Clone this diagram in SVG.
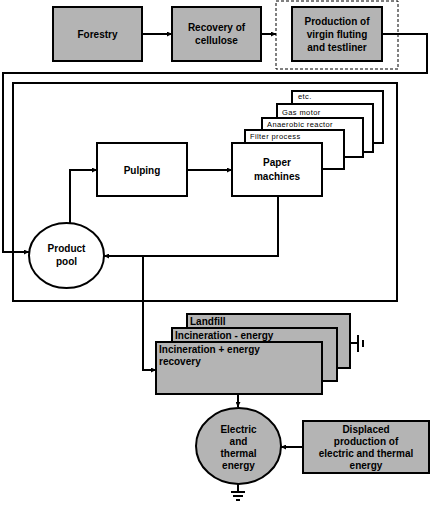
<svg xmlns="http://www.w3.org/2000/svg" width="433" height="509" viewBox="0 0 433 509">
<defs>
<marker id="ah" viewBox="0 0 6 6" refX="6" refY="3" markerWidth="5" markerHeight="5" orient="auto" markerUnits="userSpaceOnUse">
<path d="M0,0 L6,3 L0,6 Z" fill="#000"/>
</marker>
</defs>
<style>
.g{fill:#b4b4b4;stroke:#000;stroke-width:2}
.w{fill:#fff;stroke:#000;stroke-width:2}
.c{fill:none;stroke:#000;stroke-width:2}
.t{font-family:"Liberation Sans",Arial,sans-serif;font-weight:bold;font-size:10px;fill:#000;text-anchor:middle}
.s{font-family:"Liberation Sans",Arial,sans-serif;font-size:7.5px;letter-spacing:0.4px;fill:#000}
.b{font-family:"Liberation Sans",Arial,sans-serif;font-weight:bold;font-size:10px;fill:#000}
</style>
<rect width="433" height="509" fill="#fff"/>
<g id="main-box"><rect x="13" y="83" width="384" height="218" class="w"/></g>
<g id="connectors">
<line x1="142" y1="34" x2="172" y2="34" class="c" marker-end="url(#ah)"/>
<line x1="261" y1="34" x2="276" y2="34" class="c" marker-end="url(#ah)"/>
<polyline points="382,34 427,34 427,73 3,73 3,252 29,252" class="c" marker-end="url(#ah)"/>
<polyline points="70,223 70,170 97,170" class="c" marker-end="url(#ah)"/>
<line x1="187" y1="170" x2="232" y2="170" class="c" marker-end="url(#ah)"/>
<polyline points="278,196 278,256 104,256" class="c" marker-end="url(#ah)"/>
<polyline points="143,256 143,370 156,370" class="c" marker-end="url(#ah)"/>
<line x1="238" y1="394" x2="238" y2="407" class="c" marker-end="url(#ah)"/>
<line x1="303" y1="447" x2="281" y2="447" class="c" marker-end="url(#ah)"/>
<polyline points="350,343 358,343" class="c"/>
<line x1="358" y1="335" x2="358" y2="352" class="c"/>
<line x1="363" y1="340" x2="363" y2="347" class="c" stroke-width="1.5"/>
<line x1="238" y1="483" x2="238" y2="492" class="c"/>
<line x1="231" y1="492" x2="245" y2="492" class="c" stroke-width="1.5"/>
<line x1="233" y1="496" x2="243" y2="496" class="c" stroke-width="1.5"/>
<line x1="236" y1="500" x2="240" y2="500" class="c" stroke-width="1.5"/>
</g>
<g id="forestry"><rect x="53" y="7" width="89" height="54" class="g"/><text x="97.5" y="38" class="t">Forestry</text></g>
<g id="recovery"><rect x="172" y="7" width="89" height="54" class="g"/><text x="216.5" y="31" class="t">Recovery of</text><text x="216.5" y="44" class="t">cellulose</text></g>
<g id="production"><rect x="276" y="1" width="122" height="68" fill="none" stroke="#000" stroke-width="1" stroke-dasharray="3,2"/><rect x="292" y="7" width="90" height="54" class="g"/><text x="337" y="25" class="t">Production of</text><text x="337" y="38" class="t">virgin fluting</text><text x="337" y="51" class="t">and testliner</text></g>
<g id="product-pool"><ellipse cx="66.5" cy="255.5" rx="37.5" ry="32.5" class="w"/><text x="66.5" y="252" class="t">Product</text><text x="66.5" y="265" class="t">pool</text></g>
<g id="pulping"><rect x="97" y="143" width="90" height="53" class="w"/><text x="142" y="174" class="t">Pulping</text></g>
<g id="etc"><rect x="292" y="91" width="91" height="52" class="w"/><text x="298" y="99" class="s">etc.</text></g>
<g id="gas-motor"><rect x="277" y="104" width="96" height="48" class="w"/><text x="282" y="115" class="s">Gas motor</text></g>
<g id="anaerobic"><rect x="262" y="118" width="101" height="39" class="w"/><text x="267" y="127" class="s">Anaerobic reactor</text></g>
<g id="filter"><rect x="245" y="130" width="99" height="39" class="w"/><text x="250" y="139" class="s">Filter process</text></g>
<g id="paper-machines"><rect x="232" y="143" width="90" height="53" class="w"/><text x="277" y="166" class="t">Paper</text><text x="277" y="180" class="t">machines</text></g>
<g id="landfill"><rect x="187" y="314" width="163" height="54" class="g"/><text x="190" y="325" class="b">Landfill</text></g>
<g id="incineration-minus"><rect x="172" y="328" width="165" height="53" class="g"/><text x="175" y="339" class="b">Incineration - energy</text></g>
<g id="incineration-plus"><rect x="156" y="342" width="166" height="52" class="g"/><text x="159" y="353" class="b">Incineration + energy</text><text x="159" y="365" class="b">recovery</text></g>
<g id="electric"><ellipse cx="238.5" cy="446" rx="42.5" ry="38" class="g"/><text x="238.5" y="433" class="t">Electric</text><text x="238.5" y="445" class="t">and</text><text x="238.5" y="457" class="t">thermal</text><text x="238.5" y="469" class="t">energy</text></g>
<g id="displaced"><rect x="303" y="421" width="126" height="52" class="g"/><text x="366" y="433" class="t">Displaced</text><text x="366" y="445" class="t">production of</text><text x="366" y="457" class="t">electric and thermal</text><text x="366" y="469" class="t">energy</text></g>
</svg>
